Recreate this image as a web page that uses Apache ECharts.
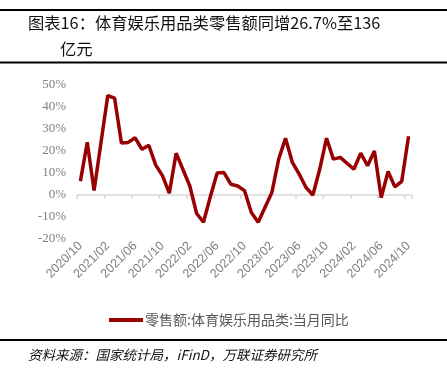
<!DOCTYPE html>
<html><head><meta charset="utf-8">
<script src="https://cdn.jsdelivr.net/npm/echarts@6/dist/echarts.min.js"></script>
<style>html,body{margin:0;padding:0;background:#fff}#c{width:447px;height:370px}</style>
</head><body><div id="c"></div>
<script>
const categories = [
  '2020/10','2020/11','2020/12',
  '2021/01','2021/02','2021/03','2021/04','2021/05','2021/06','2021/07','2021/08','2021/09','2021/10','2021/11','2021/12',
  '2022/01','2022/02','2022/03','2022/04','2022/05','2022/06','2022/07','2022/08','2022/09','2022/10','2022/11','2022/12',
  '2023/01','2023/02','2023/03','2023/04','2023/05','2023/06','2023/07','2023/08','2023/09','2023/10','2023/11','2023/12',
  '2024/01','2024/02','2024/03','2024/04','2024/05','2024/06','2024/07','2024/08','2024/09','2024/10'
];
// January figures are not published separately (null: line connects across)
const values = [
  6.3, 24.0, 2.0,
  null, 45.2, 44.0, 23.6, 23.9, 26.0, 20.8, 22.6, 13.7, 8.8, 0.8, 19.0,
  null, 4.1, -8.4, -12.4, -0.8, 10.0, 10.2, 4.9, 4.1, 2.0, -8.0, -12.4,
  null, 1.1, 16.3, 25.8, 14.8, 9.5, 3.4, 0.0, 11.7, 25.8, 16.3, 17.1,
  null, 11.7, 19.0, 13.3, 20.0, -1.2, 10.7, 3.7, 6.2, 26.7
];
const yMin = -20, yMax = 50, yStep = 10;
const titleLine1 = '图表16：体育娱乐用品类零售额同增26.7%至136';
const titleLine2 = '亿元';
const seriesName = '零售额:体育娱乐用品类:当月同比';
const sourceText = '资料来源：国家统计局，iFinD，万联证券研究所';

const chart = echarts.init(document.getElementById('c'));
const cjk = '"Noto Sans CJK SC", sans-serif';
chart.setOption({
  animation: false,
  backgroundColor: '#fff',
  graphic: [
    {type: 'line', shape: {x1: 0, y1: 10, x2: 447, y2: 10}, style: {stroke: '#000', lineWidth: 2}},
    {type: 'line', shape: {x1: 0, y1: 62.5, x2: 447, y2: 62.5}, style: {stroke: '#000', lineWidth: 2}},
    {type: 'line', shape: {x1: 0, y1: 340, x2: 447, y2: 340}, style: {stroke: '#000', lineWidth: 2}},
    {type: 'text', left: 28, top: 15, style: {text: titleLine1, font: '16.3px ' + cjk, fill: '#111'}},
    {type: 'text', left: 60, top: 41, style: {text: titleLine2, font: '16.3px ' + cjk, fill: '#111'}},
    {type: 'text', left: 28, top: 348, style: {text: sourceText, font: 'italic 13.5px ' + cjk, fill: '#111'}}
  ],
  grid: {left: 77, right: 35, top: 85, bottom: 131, containLabel: false},
  legend: {
    left: 104, top: 308, icon: 'rect', itemWidth: 34, itemHeight: 4, itemGap: 10,
    textStyle: {fontFamily: cjk, fontSize: 14, color: '#595959', padding: [0, 0, 0, -3]},
    data: [seriesName]
  },
  xAxis: [
    {
      type: 'category', data: categories, boundaryGap: true, position: 'bottom',
      axisLine: {onZero: true, lineStyle: {color: '#d9d9d9', width: 1.5}},
      axisTick: {show: true, interval: 3, length: 4, lineStyle: {color: '#d9d9d9', width: 1.5}},
      axisLabel: {show: false}, splitLine: {show: false}
    },
    {
      type: 'category', data: categories, boundaryGap: true, position: 'bottom',
      axisLine: {show: false, onZero: false}, axisTick: {show: false}, splitLine: {show: false},
      axisLabel: {interval: 3, rotate: 45, margin: 5, color: '#808080', fontSize: 12.5, fontFamily: '"Liberation Sans", sans-serif'}
    }
  ],
  yAxis: {
    type: 'value', min: yMin, max: yMax, interval: yStep,
    axisLine: {show: false}, axisTick: {show: false}, splitLine: {show: false},
    axisLabel: {formatter: '{value}%', color: '#808080', fontSize: 13, margin: 11, fontFamily: '"Liberation Serif", serif'}
  },
  series: [{
    name: seriesName, type: 'line', xAxisIndex: 0, data: values, connectNulls: true,
    symbol: 'none', lineStyle: {color: '#990000', width: 3.5}, itemStyle: {color: '#990000'}
  }]
});
</script></body></html>
